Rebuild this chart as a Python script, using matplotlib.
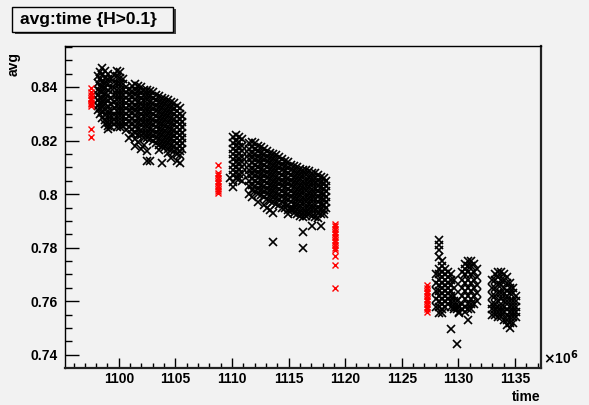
import numpy as np
import matplotlib.pyplot as plt
from matplotlib.patches import Rectangle
from matplotlib.ticker import MultipleLocator

plt.rcParams['font.family'] = ['Liberation Sans', 'DejaVu Sans']
plt.rcParams['font.weight'] = 'bold'

# time in units of 1e6 s, one entry per time slice: (time, [avg values])
run1_cols = [
    (1098.14, [0.844, 0.8415, 0.839, 0.837, 0.835, 0.833, 0.8315]),
    (1098.32, [0.8455, 0.843, 0.8405, 0.8385, 0.836, 0.834, 0.832, 0.830]),
    (1098.50, [0.847, 0.8445, 0.842, 0.840, 0.838, 0.836, 0.834, 0.8325, 0.8305, 0.8285]),
    (1098.76, [0.846, 0.8435, 0.8415, 0.8395, 0.8375, 0.8355, 0.8335, 0.8315, 0.8295, 0.8275, 0.826]),
    (1099.03, [0.845, 0.843, 0.841, 0.839, 0.837, 0.835, 0.833, 0.831, 0.829, 0.827, 0.8255, 0.8245]),
    (1099.29, [0.843, 0.8395, 0.836, 0.8335, 0.831, 0.829, 0.827, 0.825]),
    (1099.56, [0.8445, 0.842, 0.8395, 0.837, 0.8345, 0.832, 0.8295, 0.8275, 0.826]),
    (1099.82, [0.846, 0.844, 0.8415, 0.839, 0.837, 0.835, 0.833, 0.831, 0.829, 0.827, 0.825]),
    (1100.08, [0.8455, 0.8435, 0.841, 0.839, 0.837, 0.835, 0.833, 0.831, 0.829, 0.827, 0.825]),
    (1100.35, [0.843, 0.841, 0.839, 0.837, 0.835, 0.833, 0.831, 0.829, 0.827, 0.8255]),
    (1100.61, [0.840, 0.838, 0.836, 0.834, 0.832, 0.830, 0.828, 0.826, 0.824]),
    (1100.88, [0.839, 0.837, 0.835, 0.833, 0.831, 0.829, 0.827, 0.825, 0.821]),
    (1101.14, [0.8405, 0.8385, 0.8365, 0.8345, 0.8325, 0.8305, 0.8285, 0.8265, 0.8245, 0.8225]),
    (1101.41, [0.841, 0.839, 0.837, 0.835, 0.833, 0.831, 0.829, 0.827, 0.825, 0.823, 0.8205, 0.818]),
    (1101.67, [0.8405, 0.8385, 0.8365, 0.8345, 0.8325, 0.8305, 0.8285, 0.8265, 0.8245, 0.822, 0.8195]),
    (1101.94, [0.840, 0.838, 0.836, 0.834, 0.832, 0.830, 0.828, 0.826, 0.824, 0.822, 0.817]),
    (1102.20, [0.839, 0.837, 0.835, 0.833, 0.831, 0.829, 0.827, 0.825, 0.823, 0.821, 0.8185]),
    (1102.47, [0.839, 0.837, 0.835, 0.833, 0.831, 0.829, 0.827, 0.825, 0.823, 0.821, 0.816, 0.8125]),
    (1102.73, [0.8385, 0.8365, 0.8345, 0.8325, 0.8305, 0.8285, 0.8265, 0.8245, 0.8225, 0.8205, 0.8125]),
    (1103.00, [0.838, 0.836, 0.834, 0.832, 0.830, 0.828, 0.826, 0.824, 0.822, 0.820]),
    (1103.26, [0.837, 0.835, 0.833, 0.831, 0.829, 0.827, 0.825, 0.823, 0.821, 0.819]),
    (1103.53, [0.8365, 0.8345, 0.8325, 0.8305, 0.8285, 0.8265, 0.8245, 0.8225, 0.8205, 0.8185, 0.8165]),
    (1103.79, [0.836, 0.834, 0.832, 0.830, 0.828, 0.826, 0.824, 0.822, 0.820, 0.818, 0.8115]),
    (1104.06, [0.8355, 0.8335, 0.8315, 0.8295, 0.8275, 0.8255, 0.8235, 0.8215, 0.8195, 0.8175]),
    (1104.32, [0.835, 0.833, 0.831, 0.829, 0.827, 0.825, 0.823, 0.821, 0.819, 0.817, 0.8155]),
    (1104.59, [0.8345, 0.8325, 0.8305, 0.8285, 0.8265, 0.8245, 0.8225, 0.8205, 0.8185, 0.8165, 0.8135]),
    (1104.85, [0.834, 0.832, 0.830, 0.828, 0.826, 0.824, 0.822, 0.820, 0.818, 0.816]),
    (1105.11, [0.833, 0.831, 0.829, 0.827, 0.825, 0.823, 0.821, 0.819, 0.817, 0.815, 0.8125]),
    (1105.38, [0.832, 0.830, 0.828, 0.826, 0.824, 0.822, 0.820, 0.818, 0.816, 0.8145, 0.8115]),
    (1105.56, [0.829, 0.827, 0.825, 0.823, 0.821, 0.819, 0.817]),
]

run2_cols = [
    (1109.79, [0.806]),
    (1110.06, [0.8215, 0.819, 0.817, 0.815, 0.813, 0.811, 0.809, 0.807, 0.8045, 0.8025]),
    (1110.32, [0.822, 0.820, 0.818, 0.816, 0.814, 0.812, 0.810, 0.808, 0.806]),
    (1110.59, [0.8215, 0.8195, 0.8175, 0.8155, 0.8135, 0.8115, 0.8095, 0.8075, 0.8055]),
    (1110.85, [0.8205, 0.818, 0.816, 0.814, 0.812, 0.810, 0.808, 0.805]),
    (1111.47, [0.819, 0.817, 0.815, 0.813, 0.811, 0.809, 0.807, 0.805, 0.803, 0.800]),
    (1111.73, [0.8195, 0.8175, 0.8155, 0.8135, 0.8115, 0.8095, 0.8075, 0.8055, 0.8035, 0.8015, 0.799]),
    (1112.00, [0.819, 0.817, 0.815, 0.813, 0.811, 0.809, 0.807, 0.805, 0.803, 0.801]),
    (1112.26, [0.818, 0.816, 0.814, 0.812, 0.810, 0.808, 0.806, 0.804, 0.802, 0.800, 0.797]),
    (1112.53, [0.8175, 0.8155, 0.8135, 0.8115, 0.8095, 0.8075, 0.8055, 0.8035, 0.8015, 0.7995]),
    (1112.79, [0.817, 0.815, 0.813, 0.811, 0.809, 0.807, 0.805, 0.803, 0.801, 0.799, 0.796]),
    (1113.06, [0.816, 0.814, 0.812, 0.810, 0.808, 0.806, 0.804, 0.802, 0.800, 0.798, 0.795]),
    (1113.32, [0.8155, 0.8135, 0.8115, 0.8095, 0.8075, 0.8055, 0.8035, 0.8015, 0.7995, 0.7975, 0.794]),
    (1113.59, [0.815, 0.813, 0.811, 0.809, 0.807, 0.805, 0.803, 0.801, 0.799, 0.797, 0.793, 0.782]),
    (1113.85, [0.8145, 0.8125, 0.8105, 0.8085, 0.8065, 0.8045, 0.8025, 0.8005, 0.7985, 0.7965]),
    (1114.12, [0.814, 0.812, 0.810, 0.808, 0.806, 0.804, 0.802, 0.800, 0.798, 0.796]),
    (1114.38, [0.813, 0.811, 0.809, 0.807, 0.805, 0.803, 0.801, 0.799, 0.797, 0.795]),
    (1114.65, [0.8125, 0.8105, 0.8085, 0.8065, 0.8045, 0.8025, 0.8005, 0.7985, 0.7965, 0.795]),
    (1114.91, [0.812, 0.810, 0.808, 0.806, 0.804, 0.802, 0.800, 0.798, 0.796, 0.794, 0.7925]),
    (1115.18, [0.811, 0.809, 0.807, 0.805, 0.803, 0.801, 0.799, 0.797, 0.795, 0.794]),
    (1115.44, [0.8105, 0.8085, 0.8065, 0.8045, 0.8025, 0.8005, 0.7985, 0.7965, 0.7945, 0.793]),
    (1115.71, [0.810, 0.808, 0.806, 0.804, 0.802, 0.800, 0.798, 0.796, 0.794, 0.7925]),
    (1115.97, [0.8095, 0.8075, 0.8055, 0.8035, 0.8015, 0.7995, 0.7975, 0.7955, 0.7935, 0.792]),
    (1116.24, [0.809, 0.807, 0.805, 0.803, 0.801, 0.799, 0.797, 0.795, 0.793, 0.7915, 0.786, 0.780]),
    (1116.50, [0.809, 0.807, 0.805, 0.803, 0.801, 0.799, 0.797, 0.795, 0.793, 0.792]),
    (1116.77, [0.8085, 0.8065, 0.8045, 0.8025, 0.8005, 0.7985, 0.7965, 0.7945, 0.7925]),
    (1117.03, [0.808, 0.806, 0.804, 0.802, 0.800, 0.798, 0.796, 0.794, 0.792, 0.788]),
    (1117.30, [0.808, 0.806, 0.804, 0.802, 0.800, 0.798, 0.796, 0.794, 0.7915]),
    (1117.56, [0.807, 0.805, 0.803, 0.801, 0.799, 0.797, 0.795, 0.793, 0.791]),
    (1117.83, [0.8065, 0.8045, 0.8025, 0.8005, 0.7985, 0.7965, 0.7945, 0.7925, 0.788]),
    (1118.09, [0.806, 0.804, 0.802, 0.800, 0.798, 0.796, 0.794, 0.7925]),
    (1118.27, [0.805, 0.803, 0.801, 0.799, 0.797, 0.795]),
]

run3_cols = [
    (1128.06, [0.770, 0.767, 0.764, 0.761, 0.758]),
    (1128.33, [0.783, 0.781, 0.779, 0.7765, 0.772, 0.770, 0.768, 0.766, 0.764, 0.762, 0.760, 0.758, 0.7555]),
    (1128.59, [0.775, 0.773, 0.771, 0.769, 0.767, 0.765, 0.763, 0.761, 0.759, 0.757, 0.7555]),
    (1128.86, [0.772, 0.770, 0.768, 0.766, 0.764, 0.762, 0.760, 0.758]),
    (1129.12, [0.771, 0.769, 0.767, 0.765, 0.763, 0.761, 0.759]),
    (1129.39, [0.770, 0.768, 0.766, 0.764, 0.762, 0.760, 0.758, 0.7497]),
    (1129.65, [0.768, 0.765, 0.762, 0.760, 0.758, 0.757]),
    (1129.92, [0.760, 0.758, 0.757, 0.744]),
    (1130.10, [0.758, 0.756, 0.7555]),
    (1130.36, [0.771, 0.768, 0.765, 0.762, 0.759, 0.757]),
    (1130.62, [0.774, 0.772, 0.770, 0.767, 0.764, 0.761, 0.758, 0.756]),
    (1130.89, [0.775, 0.773, 0.771, 0.768, 0.765, 0.762, 0.759, 0.757, 0.753]),
    (1131.15, [0.775, 0.773, 0.770, 0.767, 0.764, 0.761, 0.759, 0.757]),
    (1131.41, [0.774, 0.771, 0.768, 0.765, 0.762, 0.759]),
    (1131.68, [0.772, 0.769, 0.766, 0.763, 0.760]),
    (1133.00, [0.768, 0.765, 0.762, 0.759, 0.757, 0.755]),
    (1133.27, [0.770, 0.768, 0.765, 0.762, 0.759, 0.757, 0.755]),
    (1133.53, [0.771, 0.769, 0.766, 0.763, 0.760, 0.758, 0.756, 0.754]),
    (1133.80, [0.771, 0.768, 0.766, 0.763, 0.761, 0.758, 0.756, 0.754]),
    (1134.06, [0.770, 0.768, 0.765, 0.763, 0.760, 0.758, 0.756, 0.753]),
    (1134.33, [0.769, 0.767, 0.764, 0.762, 0.760, 0.757, 0.755, 0.753, 0.751]),
    (1134.59, [0.767, 0.765, 0.763, 0.760, 0.758, 0.756, 0.754, 0.752, 0.750]),
    (1134.86, [0.765, 0.763, 0.760, 0.758, 0.756, 0.754, 0.752]),
    (1135.12, [0.762, 0.760, 0.758, 0.756, 0.754]),
]

# calibration points drawn in red
red_cols = [
    (1097.55, [0.8395, 0.838, 0.837, 0.836, 0.835, 0.834, 0.8335, 0.833, 0.8245, 0.8215]),
    (1108.75, [0.811, 0.808, 0.807, 0.806, 0.805, 0.804, 0.803, 0.802, 0.801, 0.8005]),
    (1119.10, [0.789, 0.788, 0.787, 0.786, 0.785, 0.784, 0.783, 0.782, 0.781, 0.780,
               0.779, 0.777, 0.7735, 0.765]),
    (1127.25, [0.766, 0.765, 0.764, 0.763, 0.762, 0.761, 0.760, 0.759, 0.758, 0.757, 0.756]),
]


def flatten(cols):
    t, a = [], []
    for time, vals in cols:
        t += [time] * len(vals)
        a += vals
    return np.array(t), np.array(a)


bg = '#f2f2f2'
fig = plt.figure(figsize=(5.89, 4.05), dpi=100, facecolor=bg)
ax = fig.add_axes([0.1104, 0.0914, 0.808, 0.795], facecolor=bg)

for cols in (run1_cols, run2_cols, run3_cols):
    t, a = flatten(cols)
    ax.plot(t, a, ls='none', marker='x', color='black', ms=6.4, mew=1.2)
t, a = flatten(red_cols)
ax.plot(t, a, ls='none', marker='x', color='red', ms=5, mew=1.0)

ax.set_xlim(1095.25, 1137.3)
ax.set_ylim(0.7351, 0.8553)
ax.xaxis.set_major_locator(MultipleLocator(5))
ax.xaxis.set_minor_locator(MultipleLocator(1))
ax.yaxis.set_major_locator(MultipleLocator(0.02))
ax.yaxis.set_minor_locator(MultipleLocator(0.005))
ax.yaxis.set_major_formatter(plt.FuncFormatter(lambda v, p: f'{v:.2f}'.rstrip('0').rstrip('.')))
ax.xaxis.set_major_formatter(plt.FuncFormatter(lambda v, p: f'{v:.0f}'))

ax.tick_params(axis='x', which='major', direction='in', length=7, width=1, labelsize=10, pad=3)
ax.tick_params(axis='x', which='minor', direction='in', length=3.5, width=1)
ax.tick_params(axis='y', which='major', direction='in', length=10, width=1, labelsize=10, pad=5)
ax.tick_params(axis='y', which='minor', direction='in', length=5, width=1)
for lab in ax.get_xticklabels() + ax.get_yticklabels():
    lab.set_fontweight('bold')

for s in ('top', 'left'):
    ax.spines[s].set_linewidth(1)
for s in ('bottom', 'right'):
    ax.spines[s].set_linewidth(1.6)
    ax.spines[s].set_color('#222222')

fig.text(0.023, 1 - 52 / 405, 'avg', rotation=90, ha='center', va='top', fontsize=10, fontweight='bold')
fig.text(541 / 589, 1 - 397 / 405, 'time', ha='right', va='center', fontsize=10, fontweight='bold')
fig.text(543 / 589, 1 - 358 / 405, r'$\times$10$^{6}$', ha='left', va='center', fontsize=10, fontweight='bold')

# title box with shadow
fig.patches.append(Rectangle((15 / 589, 1 - 34 / 405), 161 / 589, 25 / 405,
                             transform=fig.transFigure, facecolor='#444444', edgecolor='none', zorder=1))
fig.patches.append(Rectangle((12 / 589, 1 - 32 / 405), 161 / 589, 25 / 405,
                             transform=fig.transFigure, facecolor=bg, edgecolor='black', lw=1, zorder=2))
fig.text(20 / 589, 1 - 19.5 / 405, 'avg:time {H>0.1}', ha='left', va='center', fontsize=12.5,
         fontweight='bold', zorder=3)

fig.savefig('out.png', dpi=100, facecolor=bg)
